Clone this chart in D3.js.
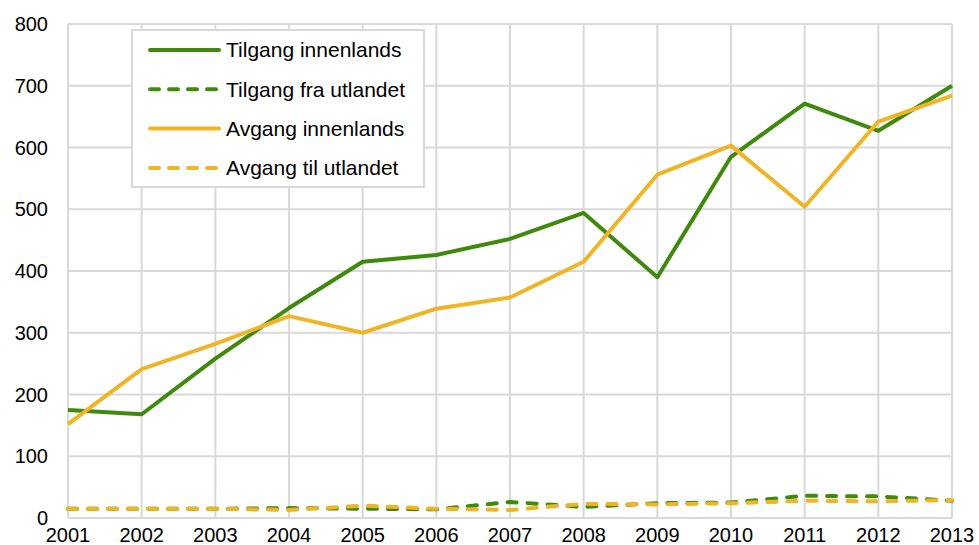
<!DOCTYPE html>
<html>
<head>
<meta charset="utf-8">
<script src="https://cdn.jsdelivr.net/npm/d3@7"></script>
<style>
  body { margin: 0; background: #fff; }
  text { font-family: "Liberation Sans", Arial, sans-serif; fill: #000; }
</style>
</head>
<body>
<script>
// years along the x axis
var years = [2001, 2002, 2003, 2004, 2005, 2006, 2007, 2008, 2009, 2010, 2011, 2012, 2013];

// series values
var tilgangInnenlands = [175, 168, 258, 340, 415, 426, 452, 494, 390, 585, 671, 627, 700];
var tilgangUtlandet   = [15, 15, 15, 16, 15, 14, 26, 18, 24, 25, 36, 35, 28];
var avgangInnenlands  = [152, 241, 282, 327, 300, 339, 357, 415, 556, 603, 504, 642, 684];
var avgangUtlandet    = [15, 15, 15, 13, 20, 15, 13, 23, 22, 24, 28, 27, 29];

var seriesNames = ["Tilgang innenlands", "Tilgang fra utlandet", "Avgang innenlands", "Avgang til utlandet"];
var yTicks = [0, 100, 200, 300, 400, 500, 600, 700, 800];

var green = "#3f8a0c", yellow = "#efb526";

var series = [
  {name: seriesNames[0], values: tilgangInnenlands, color: green, dashed: false},
  {name: seriesNames[1], values: tilgangUtlandet, color: green, dashed: true},
  {name: seriesNames[2], values: avgangInnenlands, color: yellow, dashed: false},
  {name: seriesNames[3], values: avgangUtlandet, color: yellow, dashed: true}
];

var w = 979, h = 545;
var margin = {left: 68, right: 27, top: 24, bottom: 27};

var svg = d3.select("body").append("svg")
    .attr("width", w)
    .attr("height", h);

var x = d3.scaleLinear()
    .domain([2001, 2013])
    .range([margin.left, w - margin.right]);

var y = d3.scaleLinear()
    .domain([0, 800])
    .range([h - margin.bottom, margin.top]);

// gridlines
svg.append("g").selectAll("line.h")
    .data(yTicks)
    .enter().append("line")
    .attr("x1", x(2001)).attr("x2", x(2013))
    .attr("y1", d => y(d)).attr("y2", d => y(d))
    .attr("stroke", "#d9d9d9").attr("stroke-width", 2);

svg.append("g").selectAll("line.v")
    .data(years)
    .enter().append("line")
    .attr("x1", d => x(d)).attr("x2", d => x(d))
    .attr("y1", y(0)).attr("y2", y(800))
    .attr("stroke", "#d9d9d9").attr("stroke-width", 2);

// tick labels
svg.append("g").selectAll("text")
    .data(yTicks)
    .enter().append("text")
    .attr("x", 48)
    .attr("y", d => y(d))
    .attr("dy", "0.35em")
    .attr("text-anchor", "end")
    .attr("font-size", 20)
    .text(d => d);

svg.append("g").selectAll("text")
    .data(years)
    .enter().append("text")
    .attr("x", d => x(d))
    .attr("y", 542)
    .attr("text-anchor", "middle")
    .attr("font-size", 20)
    .text(d => d);

// lines
var line = d3.line()
    .x((d, i) => x(years[i]))
    .y(d => y(d));

svg.append("g").selectAll("path")
    .data(series)
    .enter().append("path")
    .attr("d", d => line(d.values))
    .attr("fill", "none")
    .attr("stroke", d => d.color)
    .attr("stroke-width", 4)
    .attr("stroke-linecap", d => d.dashed ? "round" : "butt")
    .attr("stroke-linejoin", "round")
    .attr("stroke-dasharray", d => d.dashed ? "9,11" : null);

// legend
var legend = svg.append("g").attr("transform", "translate(132,30)");

legend.append("rect")
    .attr("width", 292)
    .attr("height", 157)
    .attr("fill", "#fff")
    .attr("stroke", "#d9d9d9")
    .attr("stroke-width", 2);

var item = legend.selectAll("g.item")
    .data(series)
    .enter().append("g")
    .attr("transform", (d, i) => "translate(0," + (20 + i * 39.3) + ")");

item.append("line")
    .attr("x1", 18).attr("x2", 87)
    .attr("stroke", d => d.color)
    .attr("stroke-width", 4)
    .attr("stroke-linecap", "round")
    .attr("stroke-dasharray", d => d.dashed ? "9,10" : null);

item.append("text")
    .attr("x", 94)
    .attr("dy", "0.35em")
    .attr("font-size", 21)
    .text(d => d.name);
</script>
</body>
</html>
